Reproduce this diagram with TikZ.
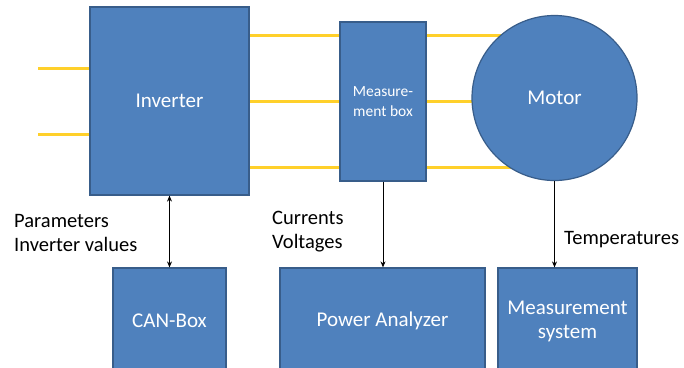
\documentclass[tikz,border=0pt]{standalone}
\usepackage{fontspec}
\setmainfont{Carlito}
\usetikzlibrary{backgrounds,arrows.meta}
\definecolor{boxblue}{HTML}{4F81BD}
\definecolor{boxedge}{HTML}{385D8A}
\definecolor{wire}{HTML}{FFD02A}
\tikzset{
  blk/.style={draw=boxedge, fill=boxblue, line width=1.2pt, text=white, font=\fontsize{21}{24}\selectfont, align=center, inner sep=0pt},
  wireline/.style={wire, line width=3pt},
  sig/.style={black, line width=1pt, -{Stealth[length=6pt,width=5pt]}},
  lbl/.style={font=\fontsize{20.5}{24}\selectfont, align=left, inner sep=0pt, anchor=north west}
}
\begin{document}
\begin{tikzpicture}[x=1pt,y=-1pt]
\clip (0,0) rectangle (684,367);
\node[blk, minimum width=159pt, minimum height=188pt] (inv) at (169.5,101) {Inverter};
\node[blk, minimum width=86pt, minimum height=159pt, font=\fontsize{15.5}{19.5}\selectfont] (mb) at (383,101.5) {Measure-\\ment box};
\node[blk, circle, minimum size=165pt] (mot) at (554.5,98) {Motor};
\node[blk, minimum width=113pt, minimum height=106pt] (can) at (169.5,321) {CAN-Box};
\node[blk, minimum width=205pt, minimum height=106pt] (pa) at (382.5,321) {Power Analyzer};
\node[blk, minimum width=139pt, minimum height=106pt] (ms) at (567.5,321) {Measurement\\system};
\coordinate (l1) at (38,68);
\coordinate (l2) at (38,134);
\coordinate (y1) at (0,35);
\coordinate (y2) at (0,101);
\coordinate (y3) at (0,167);
\begin{scope}[on background layer]
  \fill[white] (0,0) rectangle (684,367);
  \draw[wireline] (l1) -- (inv.west |- l1);
  \draw[wireline] (l2) -- (inv.west |- l2);
  \foreach \y in {y1,y2,y3} {
    \draw[wireline] (inv.east |- \y) -- (mb.west |- \y);
    \draw[wireline] (mb.east |- \y) -- (mot.center |- \y);
  }
\end{scope}
\draw[sig, {Stealth[length=6pt,width=5pt]}-{Stealth[length=6pt,width=5pt]}] (inv.south) -- (can.north);
\draw[sig] (mb.south) -- (mb.south |- pa.north);
\draw[sig] (mot.south) -- (mot.south |- ms.north);
\node[lbl] (t1) at (14,214) {Parameters\\Inverter values};
\node[lbl] (t2) at (272,211) {Currents\\Voltages};
\node[lbl] (t3) at (564,231) {Temperatures};
\end{tikzpicture}
\end{document}
